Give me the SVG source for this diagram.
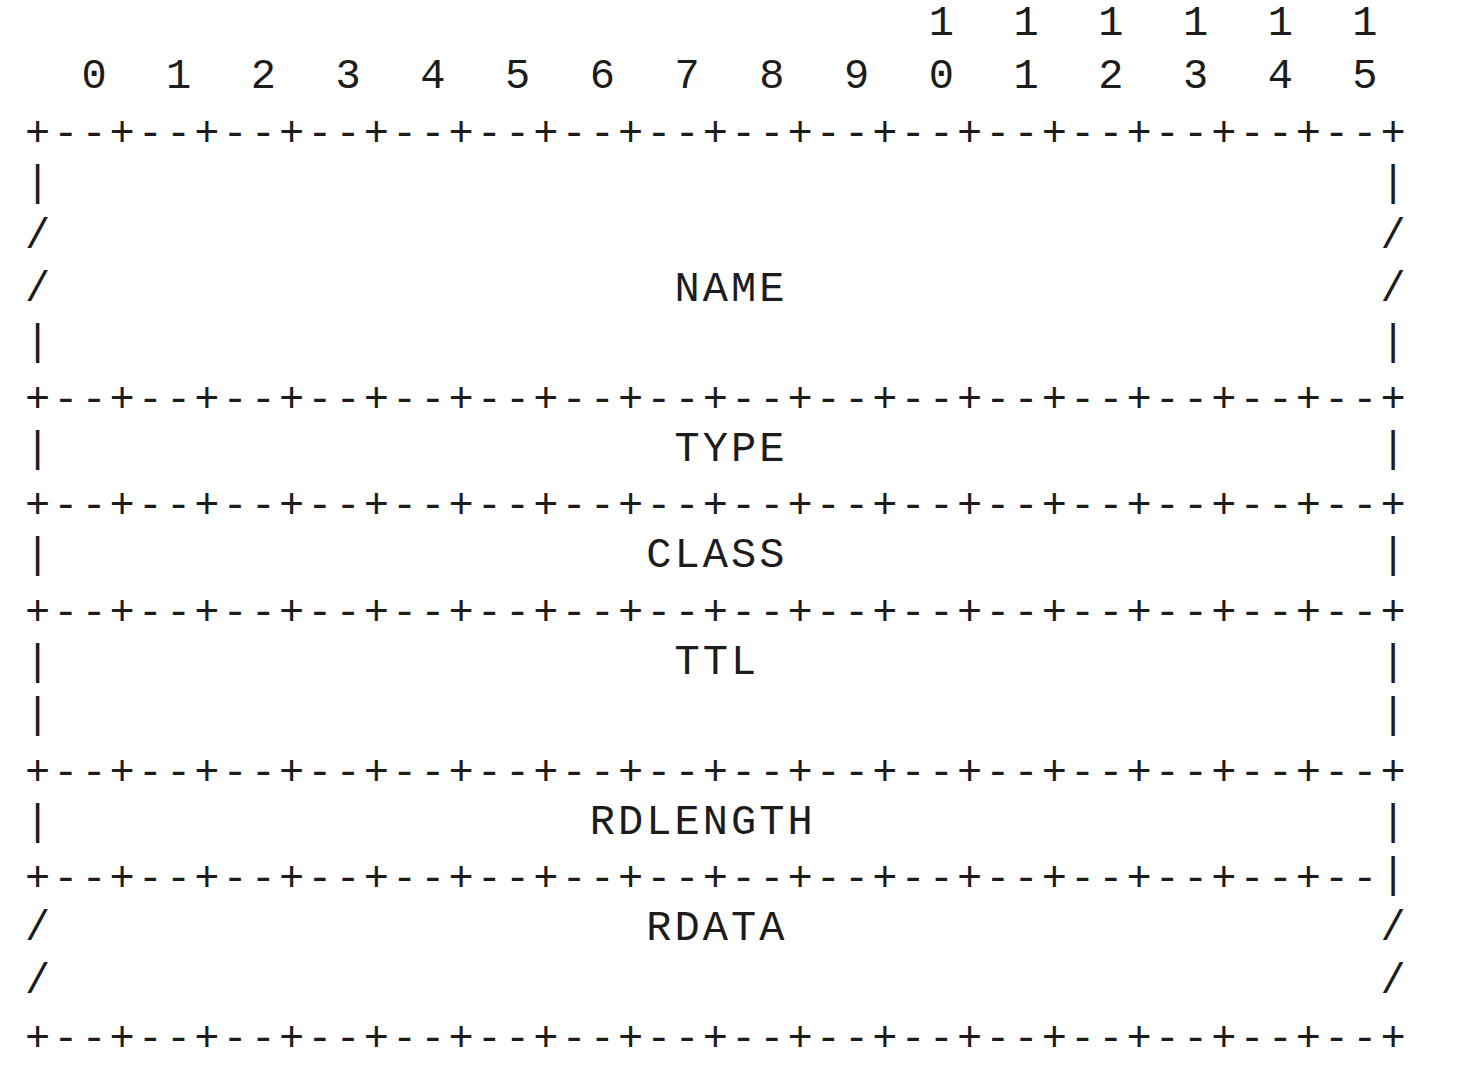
<svg xmlns="http://www.w3.org/2000/svg" width="1464" height="1074" viewBox="0 0 1464 1074">
<style>
  text { font-family: "Liberation Mono", "Courier New", monospace; font-size: 42px; letter-spacing: 3.04px; fill: #1c1c1c; white-space: pre; }
</style>
<rect width="1464" height="1074" fill="#ffffff"/>
<g id="bit-numbers">
  <text x="24.9" y="35" xml:space="preserve">                                1  1  1  1  1  1</text>
  <text x="24.9" y="88" xml:space="preserve">  0  1  2  3  4  5  6  7  8  9  0  1  2  3  4  5</text>
</g>
<g id="connectors">
  <text x="24.9" y="145.6">+--+--+--+--+--+--+--+--+--+--+--+--+--+--+--+--+</text>
  <text x="24.9" y="411.8">+--+--+--+--+--+--+--+--+--+--+--+--+--+--+--+--+</text>
  <text x="24.9" y="518.3">+--+--+--+--+--+--+--+--+--+--+--+--+--+--+--+--+</text>
  <text x="24.9" y="624.8">+--+--+--+--+--+--+--+--+--+--+--+--+--+--+--+--+</text>
  <text x="24.9" y="784.5">+--+--+--+--+--+--+--+--+--+--+--+--+--+--+--+--+</text>
  <text x="24.9" y="891">+--+--+--+--+--+--+--+--+--+--+--+--+--+--+--+--</text>
  <text x="1380.4" y="886.7">|</text>
  <text x="24.9" y="1050.7">+--+--+--+--+--+--+--+--+--+--+--+--+--+--+--+--+</text>
</g>
<g id="node-name">
  <text x="24.9" y="194.5" xml:space="preserve">|                                               |</text>
  <text x="24.9" y="247.8" xml:space="preserve">/                                               /</text>
  <text x="24.9" y="301" xml:space="preserve">/                      NAME                     /</text>
  <text x="24.9" y="354.3" xml:space="preserve">|                                               |</text>
</g>
<g id="node-type">
  <text x="24.9" y="460.8" xml:space="preserve">|                      TYPE                     |</text>
</g>
<g id="node-class">
  <text x="24.9" y="567.3" xml:space="preserve">|                     CLASS                     |</text>
</g>
<g id="node-ttl">
  <text x="24.9" y="673.7" xml:space="preserve">|                      TTL                      |</text>
  <text x="24.9" y="727" xml:space="preserve">|                                               |</text>
</g>
<g id="node-rdlength">
  <text x="24.9" y="833.5" xml:space="preserve">|                   RDLENGTH                    |</text>
</g>
<g id="node-rdata">
  <text x="24.9" y="939.9" xml:space="preserve">/                     RDATA                     /</text>
  <text x="24.9" y="993.2" xml:space="preserve">/                                               /</text>
</g>
</svg>
